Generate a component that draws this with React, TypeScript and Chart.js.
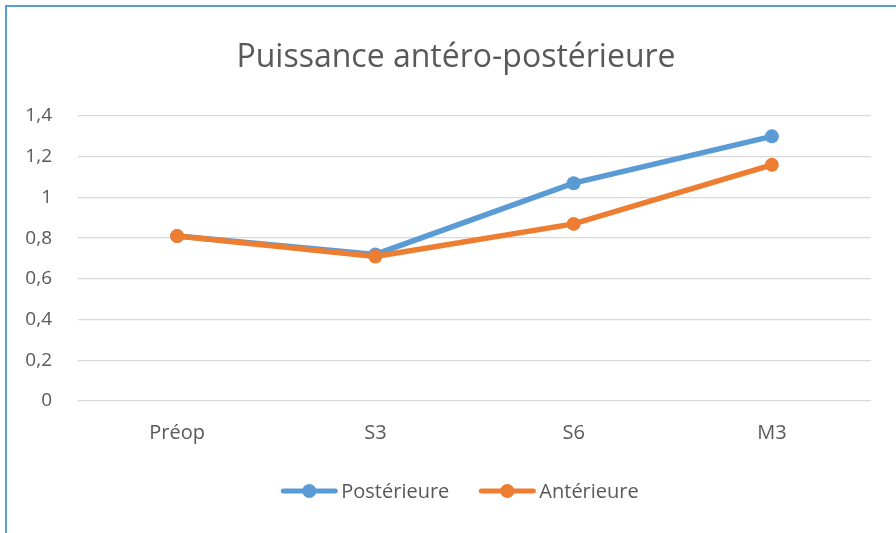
import React, { useEffect, useRef } from "react";
import { Chart, registerables } from "chart.js";

Chart.register(...registerables);

const categories = ["Préop", "S3", "S6", "M3"];
const posterieure = [0.81, 0.72, 1.07, 1.3];
const anterieure = [0.81, 0.71, 0.87, 1.16];
const yTickLabels = ["0", "0,2", "0,4", "0,6", "0,8", "1", "1,2", "1,4"];
const seriesNames = ["Postérieure", "Antérieure"];
const seriesColors = ["#5B9BD5", "#ED7D31"];
const titleText = "Puissance antéro-postérieure";

const FONT = "'Open Sans', sans-serif";
const TEXT_COLOR = "#595959";

const framePlugin = {
  id: "frame",
  beforeDraw(chart: any) {
    const { ctx, width, height } = chart;
    ctx.save();
    ctx.fillStyle = "#ffffff";
    ctx.fillRect(0, 0, width, height);
    ctx.strokeStyle = "#5B9BD5";
    ctx.lineWidth = 2;
    ctx.beginPath();
    ctx.moveTo(6, height);
    ctx.lineTo(6, 6);
    ctx.lineTo(width, 6);
    ctx.stroke();
    ctx.restore();
  },
};

const titleLegendPlugin = {
  id: "titleLegend",
  afterDraw(chart: any) {
    const { ctx } = chart;
    ctx.save();
    // title
    ctx.fillStyle = TEXT_COLOR;
    ctx.font = `32px ${FONT}`;
    ctx.textAlign = "center";
    ctx.textBaseline = "alphabetic";
    ctx.fillText(titleText, 456, 67);

    // legend
    ctx.font = `20px ${FONT}`;
    const lineW = 56;
    const gapText = 4;
    const gapItem = 30;
    const widths = seriesNames.map((n) => ctx.measureText(n).width);
    let total = 0;
    widths.forEach((w, i) => {
      total += lineW + gapText + w + (i < widths.length - 1 ? gapItem : 0);
    });
    let x = 460 - total / 2;
    const y = 491;
    seriesNames.forEach((name, i) => {
      ctx.strokeStyle = seriesColors[i];
      ctx.fillStyle = seriesColors[i];
      ctx.lineWidth = 5;
      ctx.lineCap = "round";
      ctx.beginPath();
      ctx.moveTo(x + 2, y);
      ctx.lineTo(x + lineW - 2, y);
      ctx.stroke();
      ctx.beginPath();
      ctx.arc(x + lineW / 2, y, 7, 0, Math.PI * 2);
      ctx.fill();
      ctx.fillStyle = TEXT_COLOR;
      ctx.textAlign = "left";
      ctx.textBaseline = "middle";
      ctx.fillText(name, x + lineW + gapText, y + 1);
      x += lineW + gapText + widths[i] + gapItem;
    });
    ctx.restore();
  },
};

export default function App() {
  const ref = useRef<HTMLCanvasElement | null>(null);

  useEffect(() => {
    if (!ref.current) return;
    const chart = new Chart(ref.current, {
      type: "line",
      data: {
        labels: categories,
        datasets: [
          {
            label: seriesNames[0],
            data: posterieure,
            borderColor: seriesColors[0],
            backgroundColor: seriesColors[0],
            borderWidth: 5.5,
            pointRadius: 7,
            pointHoverRadius: 7,
            pointBorderWidth: 0,
            tension: 0,
            order: 2,
          },
          {
            label: seriesNames[1],
            data: anterieure,
            borderColor: seriesColors[1],
            backgroundColor: seriesColors[1],
            borderWidth: 5.5,
            pointRadius: 7,
            pointHoverRadius: 7,
            pointBorderWidth: 0,
            tension: 0,
            order: 1,
          },
        ],
      },
      options: {
        responsive: false,
        animation: false,
        layout: { padding: { left: 0, right: 25, top: 116, bottom: 72 } },
        plugins: {
          legend: { display: false },
          title: { display: false },
          tooltip: { enabled: false },
        },
        scales: {
          x: {
            offset: true,
            grid: { display: false, drawTicks: false },
            border: { display: false },
            ticks: {
              color: TEXT_COLOR,
              font: { family: FONT, size: 20 },
              padding: 20,
            },
            afterFit(scale: any) {
              scale.height = 60;
            },
          },
          y: {
            min: 0,
            max: 1.4,
            grid: { color: "#D9D9D9", lineWidth: 1.3, drawTicks: false },
            border: { display: false },
            ticks: {
              stepSize: 0.2,
              color: TEXT_COLOR,
              font: { family: FONT, size: 19 },
              padding: 26,
              callback: (_v: any, i: number) => yTickLabels[i],
            },
            afterFit(scale: any) {
              scale.width = 78;
            },
          },
        },
      },
      plugins: [framePlugin, titleLegendPlugin],
    });
    return () => chart.destroy();
  }, []);

  return (
    <div style={{ position: "fixed", left: 0, top: 0, width: 896, height: 533 }}>
      <canvas ref={ref} width={896} height={533} style={{ display: "block" }} />
    </div>
  );
}
